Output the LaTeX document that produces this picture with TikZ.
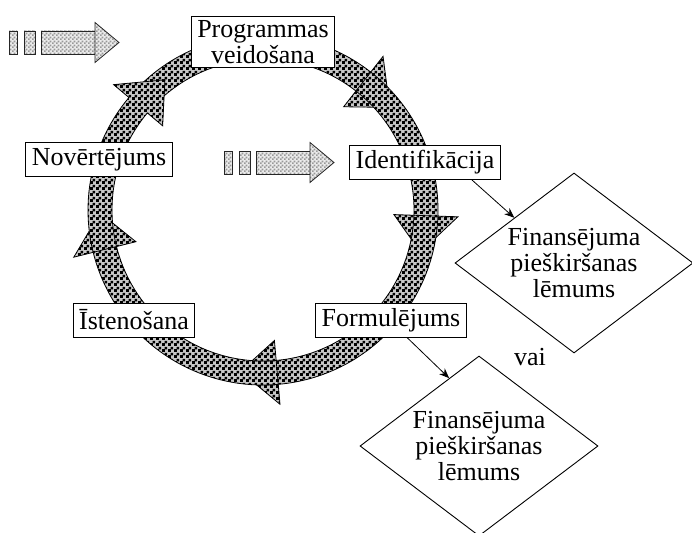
\documentclass[tikz,border=0pt]{standalone}
\usepackage{fontspec}
\setmainfont{Liberation Serif}
\newfontfamily\stagefont{Liberation Serif}
\usetikzlibrary{shapes.geometric, patterns.meta, arrows.meta, calc}

\tikzdeclarepattern{
  name=ringcheck,
  type=uncolored,
  bounding box={(0pt,0pt) and (6pt,6pt)},
  tile size={(6pt,6pt)},
  code={\fill (0pt,0pt) rectangle (3.3pt,3.3pt); \fill (3pt,3pt) rectangle (6pt,6pt);}
}
\tikzdeclarepattern{
  name=feedcheck,
  type=uncolored,
  bounding box={(0pt,0pt) and (4pt,4pt)},
  tile size={(4pt,4pt)},
  code={\fill (0pt,0pt) rectangle (2pt,2pt); \fill (2pt,2pt) rectangle (4pt,4pt);}
}

% one curved piece of the cycle: tail angle, head angle
\newcommand{\ringarrow}[2]{%
  \draw[ringpart] (#1:175) arc[start angle=#1, end angle=#2, radius=175]
    -- (#2:195) -- ({#2-13}:163) -- (#2:131) -- (#2:151)
    arc[start angle=#2, end angle=#1, radius=151] -- cycle;}

% dashed block arrow, top left corner given
\newcommand{\feedarrow}[1]{%
  \begin{scope}[shift={#1}]
    \draw[feedpart] (0,0) rectangle (8,-23);
    \draw[feedpart] (15,0) rectangle (26,-23);
    \draw[feedpart] (32,0) rectangle (86,-23);
    \draw[feedpart] (86,8.5) -- (110,-11.5) -- (86,-31.5) -- cycle;
  \end{scope}}

\begin{document}
\begin{tikzpicture}[x=1pt,y=1pt,
    ringpart/.style={draw=black, line width=0.8pt, preaction={fill=black!22},
      pattern={ringcheck}, pattern color=black},
    feedpart/.style={draw=black!85, line width=0.8pt, preaction={fill=black!8},
      pattern={feedcheck}, pattern color=gray!80},
    stage/.style={draw, fill=white, line width=1pt, font=\stagefont\fontsize{26}{26}\selectfont,
      inner xsep=6pt, inner ysep=4pt, minimum height=34pt},
    decision/.style={diamond, draw, fill=white, line width=0.9pt, aspect=1.333, inner sep=0pt,
      minimum width=238pt, minimum height=180pt, align=center,
      font=\stagefont\fontsize{26}{26}\selectfont},
    link/.style={-{Stealth[length=10pt,width=8pt]}, line width=0.8pt}]
  \useasboundingbox (0,0) rectangle (692,-532);

  % the cycle
  \begin{scope}[shift={(263,-210)}]
    \ringarrow{140}{52}
    \ringarrow{52}{-2}
    \ringarrow{-2}{-85}
    \ringarrow{-85}{-166}
    \ringarrow{-166}{-220}
  \end{scope}

  \feedarrow{(9,-31)}
  \feedarrow{(224,-151)}

  \node[stage, align=center] (prog) at (263,-42) {Programmas\\veidošana};
  \node[stage] (novert) at (99,-159.5) {Novērtējums};
  \node[stage] (ident) at (425,-162.5) {Identifikācija};
  \node[stage] (isten) at (134,-320) {Īstenošana};
  \node[stage] (formul) at (391,-320) {Formulējums};

  \node[decision] (fin1) at (574,-263) {Finansējuma\\pieškiršanas\\lēmums};
  \node[decision] (fin2) at (479,-446) {Finansējuma\\pieškiršanas\\lēmums};
  \node[font=\stagefont\fontsize{26}{26}\selectfont] (vai) at (530,-357) {vai};

  \draw[link] ([xshift=47pt]ident.south) -- (fin1.north west);
  \draw[link] ([xshift=16pt]formul.south) -- ($(fin2.west)!0.75!(fin2.north)$);
\end{tikzpicture}
\end{document}
